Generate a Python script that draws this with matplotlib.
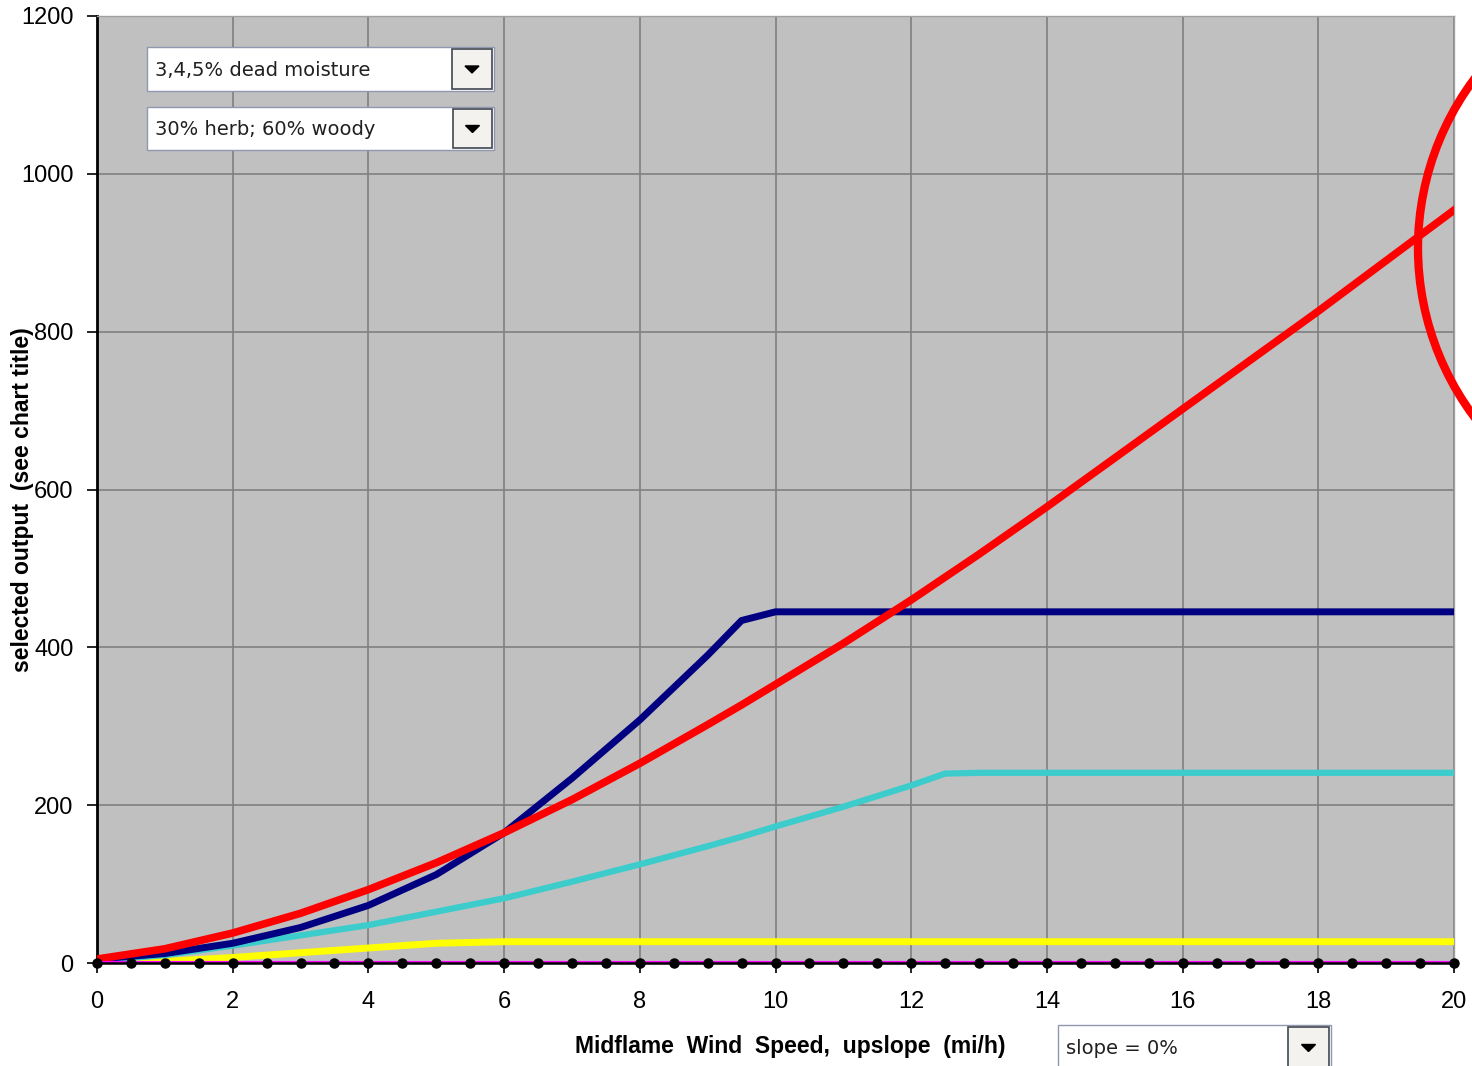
import numpy as np
import matplotlib.pyplot as plt
from matplotlib.patches import Rectangle, Polygon, Ellipse

# wind speed (mi/h) and selected output for each series
wind = [0, 1, 2, 3, 4, 5, 6, 7, 8, 9, 9.5, 10, 11, 12, 12.5, 13, 14, 15, 16, 17, 18, 19, 20]
red = [5, 18, 38, 63, 93, 127, 165, 207, 253, 302, 327, 353, 405, 460, 489, 518, 578, 640, 702, 764, 826, 890, 954]
navy = [5, 12, 25, 45, 73, 112, 165, 234, 308, 390, 434, 445, 445, 445, 445, 445, 445, 445, 445, 445, 445, 445, 445]
cyan = [3, 10, 22, 35, 48, 65, 82, 103, 125, 148, 160, 173, 198, 225, 240, 241, 241, 241, 241, 241, 241, 241, 241]
yellow = [0, 2, 7, 13, 19, 25, 27, 27, 27, 27, 27, 27, 27, 27, 27, 27, 27, 27, 27, 27, 27, 27, 27]

wind_pts = np.arange(0, 20.5, 0.5)
zero_pts = [0.0] * len(wind_pts)

x_ticks = [0, 2, 4, 6, 8, 10, 12, 14, 16, 18, 20]
y_ticks = [0, 200, 400, 600, 800, 1000, 1200]

W, H = 1472, 1066
fig = plt.figure(figsize=(W / 100, H / 100), dpi=100)
plt.rcParams['font.family'] = ['Liberation Sans', 'DejaVu Sans']

ax = fig.add_axes([97 / W, 1 - 963 / H, (1454 - 97) / W, (963 - 16) / H])
ax.set_facecolor('#C0C0C0')

ax.plot(wind, yellow, color='#FFFF00', lw=5, zorder=3)
ax.plot(wind, cyan, color='#3CCCCC', lw=4.5, zorder=4)
ax.plot(wind, navy, color='#000080', lw=5, zorder=5)
ax.plot(wind, red, color='#FF0000', lw=5.5, zorder=6)
ax.plot(wind_pts, zero_pts, color='#FF00FF', lw=3, zorder=7)
ax.plot(wind_pts, zero_pts, color='black', lw=1.8, marker='o', ms=6.5, zorder=8, clip_on=False)

ax.set_xlim(0, 20)
ax.set_ylim(0, 1200)
ax.set_xticks(x_ticks)
ax.set_yticks(y_ticks)
ax.set_xticklabels([str(t) for t in x_ticks])
ax.set_yticklabels([str(t) for t in y_ticks])
ax.tick_params(axis='both', direction='out', length=7, width=1.2, labelsize=17, colors='black')
ax.tick_params(axis='x', pad=13)
ax.tick_params(axis='y', pad=10)

ax.grid(True, color='#808080', lw=1.2)
ax.set_axisbelow(True)
for side in ['top', 'right']:
    ax.spines[side].set_color('#A0A0A0')
    ax.spines[side].set_linewidth(1)
ax.spines['left'].set_linewidth(2)
ax.spines['bottom'].set_linewidth(1.5)

ax.set_xlabel('Midflame  Wind  Speed,  upslope  (mi/h)', fontsize=16.5, fontweight='bold')
ax.xaxis.set_label_coords((790 - 97) / (1454 - 97), -(1035 - 963) / (963 - 16))
ax.set_ylabel('selected output  (see chart title)', fontsize=16.5, fontweight='bold')
ax.yaxis.set_label_coords(-(97 - 34) / (1454 - 97), (963 - 500) / (963 - 16))


def fx(px):
    return px / W


def fy(py):
    return 1 - py / H


def dropdown(x0, y0, x1, y1, text):
    fig.add_artist(Rectangle((fx(x0), fy(y1)), fx(x1 - x0), (y1 - y0) / H,
                             transform=fig.transFigure, facecolor='white',
                             edgecolor='#9098B0', lw=1, zorder=10))
    bx0 = x1 - (y1 - y0) + 2
    fig.add_artist(Rectangle((fx(bx0), fy(y1 - 2)), fx(x1 - 2 - bx0), (y1 - y0 - 4) / H,
                             transform=fig.transFigure, facecolor='#F4F2EE',
                             edgecolor='#404850', lw=1.2, zorder=11))
    cx = (bx0 + x1 - 2) / 2
    cy = (y0 + y1) / 2
    tri = [(fx(cx - 7), fy(cy - 3)), (fx(cx + 7), fy(cy - 3)), (fx(cx), fy(cy + 4))]
    fig.add_artist(Polygon(tri, closed=True, transform=fig.transFigure,
                           facecolor='black', edgecolor='black', zorder=12))
    fig.text(fx(x0 + 8), fy(cy + 1), text, fontsize=14, family='DejaVu Sans',
             color='#202020', va='center', ha='left', zorder=12)


dropdown(147, 47, 494, 91, '3,4,5% dead moisture')
dropdown(147, 107, 494, 150, '30% herb; 60% woody')
dropdown(1058, 1025, 1331, 1070, 'slope = 0%')

# red annotation circle at right edge
fig.add_artist(Ellipse((fx(1700), fy(248)), 2 * 282 / W, 2 * 282 / H,
                       transform=fig.transFigure, fill=False,
                       edgecolor='#FF0000', lw=6, zorder=20))

fig.savefig('out.png', dpi=100)
